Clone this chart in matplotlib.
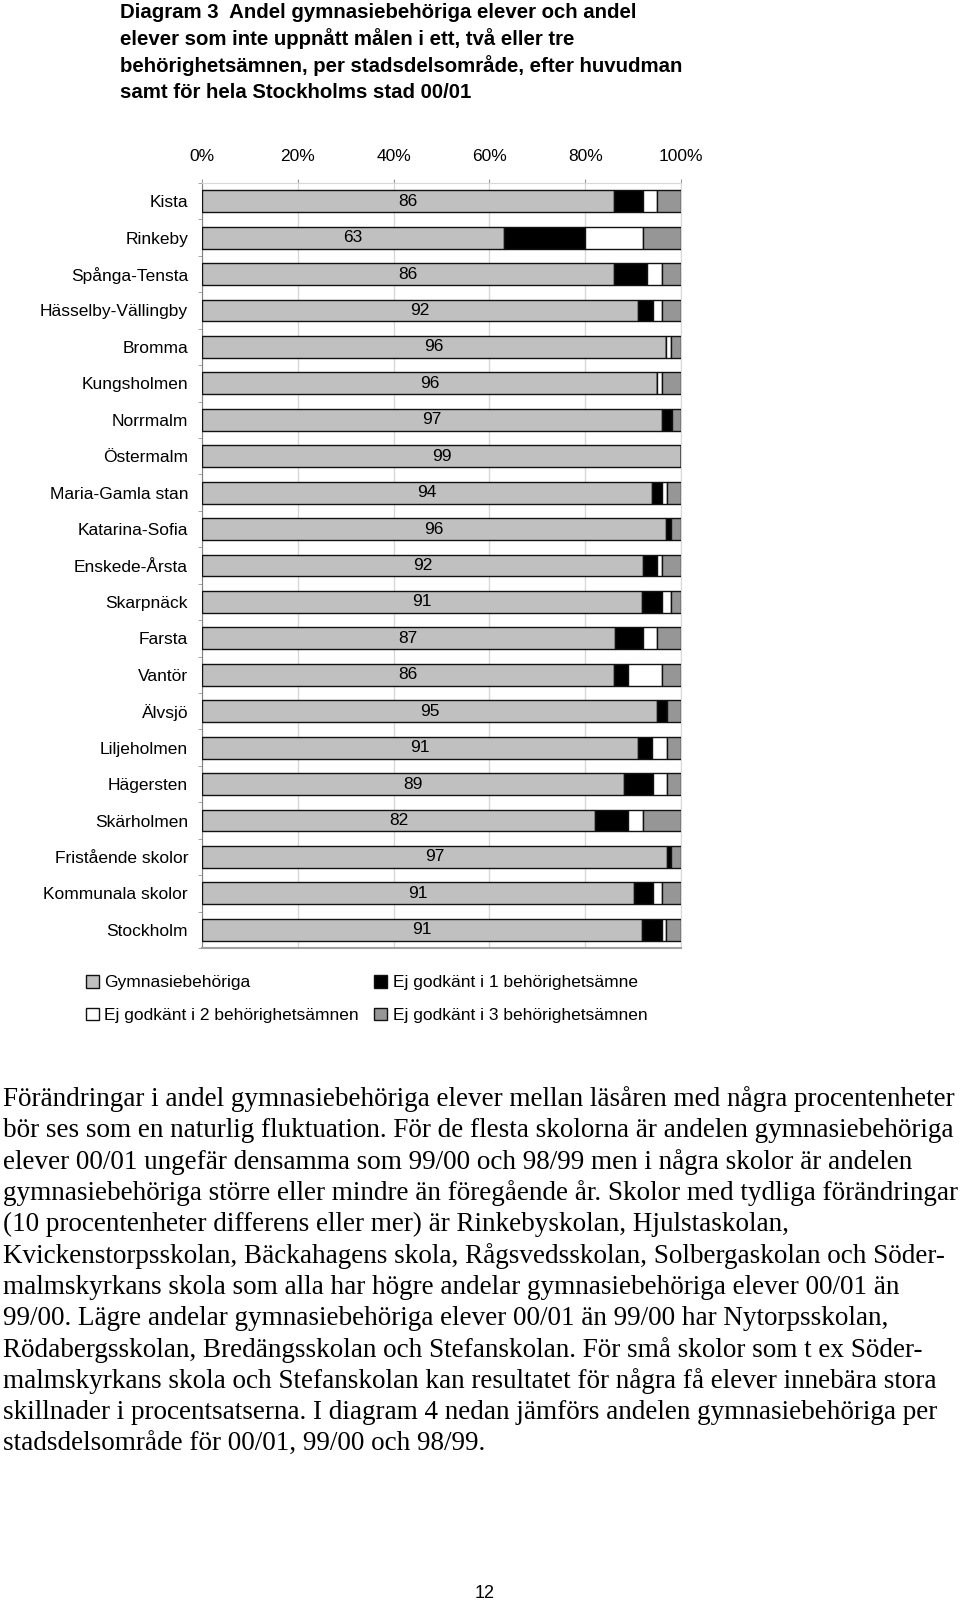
import numpy as np
import matplotlib.pyplot as plt
from matplotlib.patches import Patch

# data (per cent, rows in display order)
categories = ['Kista', 'Rinkeby', 'Spånga-Tensta', 'Hässelby-Vällingby', 'Bromma',
              'Kungsholmen', 'Norrmalm', 'Östermalm', 'Maria-Gamla stan', 'Katarina-Sofia',
              'Enskede-Årsta', 'Skarpnäck', 'Farsta', 'Vantör', 'Älvsjö', 'Liljeholmen',
              'Hägersten', 'Skärholmen', 'Fristående skolor', 'Kommunala skolor', 'Stockholm']
gymn = [86, 63, 86, 92, 96, 96, 97, 99, 94, 96, 92, 91, 87, 86, 95, 91, 89, 82, 97, 91, 91]
ej1 = [6, 17, 7, 3, 0, 0, 2, 0, 2, 1, 3, 4, 6, 3, 2, 3, 6, 7, 1, 4, 4]
ej2 = [3, 12, 3, 2, 1, 1, 0, 0, 1, 0, 1, 2, 3, 7, 0, 3, 3, 3, 0, 2, 1]
ej3 = [5, 8, 4, 4, 2, 4, 2, 0, 3, 2, 4, 2, 5, 4, 3, 3, 3, 8, 2, 4, 3]
series_names = ['Gymnasiebehöriga', 'Ej godkänt i 1 behörighetsämne',
                'Ej godkänt i 2 behörighetsämnen', 'Ej godkänt i 3 behörighetsämnen']
xticks = [0, 20, 40, 60, 80, 100]

title_lines = ['Diagram 3  Andel gymnasiebehöriga elever och andel',
               'elever som inte uppnått målen i ett, två eller tre',
               'behörighetsämnen, per stadsdelsområde, efter huvudman',
               'samt för hela Stockholms stad 00/01']

body_lines = [
    'Förändringar i andel gymnasiebehöriga elever mellan läsåren med några procentenheter',
    'bör ses som en naturlig fluktuation. För de flesta skolorna är andelen gymnasiebehöriga',
    'elever 00/01 ungefär densamma som 99/00 och 98/99 men i några skolor är andelen',
    'gymnasiebehöriga större eller mindre än föregående år. Skolor med tydliga förändringar',
    '(10 procentenheter differens eller mer) är Rinkebyskolan, Hjulstaskolan,',
    'Kvickenstorpsskolan, Bäckahagens skola, Rågsvedsskolan, Solbergaskolan och Söder-',
    'malmskyrkans skola som alla har högre andelar gymnasiebehöriga elever 00/01 än',
    '99/00. Lägre andelar gymnasiebehöriga elever 00/01 än 99/00 har Nytorpsskolan,',
    'Rödabergsskolan, Bredängsskolan och Stefanskolan. För små skolor som t ex Söder-',
    'malmskyrkans skola och Stefanskolan kan resultatet för några få elever innebära stora',
    'skillnader i procentsatserna. I diagram 4 nedan jämförs andelen gymnasiebehöriga per',
    'stadsdelsområde för 00/01, 99/00 och 98/99.',
]

colors = ['#c0c0c0', '#000000', '#ffffff', '#969696']
sans = ['Liberation Sans', 'DejaVu Sans']

W, H = 960, 1601
fig = plt.figure(figsize=(W / 100, H / 100), dpi=100)

def fy(y):
    return 1 - y / H

ax = fig.add_axes([202 / W, fy(948), (681 - 202) / W, (948 - 183) / H])

vals = np.array([gymn, ej1, ej2, ej3], dtype=float)
shares = vals / vals.sum(axis=0) * 100
y = np.arange(len(categories))
left = np.zeros(len(categories))
for s, c, name in zip(shares, colors, series_names):
    ax.barh(y, s, left=left, height=0.6, color=c, edgecolor='#111111',
            linewidth=1.0, label=name, zorder=3)
    left += s

for yi, s, v in zip(y, shares[0], gymn):
    ax.text(s / 2, yi, str(v), ha='center', va='center', fontsize=12.5,
            family=sans, zorder=4)

ax.set_xlim(0, 100)
ax.set_ylim(len(categories) - 0.5, -0.5)
ax.xaxis.tick_top()
ax.set_xticks(xticks)
ax.set_xticklabels([f'{t}%' for t in xticks], fontsize=12.5, family=sans)
ax.tick_params(axis='x', length=3, color='#999999', pad=11)
ax.set_yticks(y)
ax.set_yticklabels(categories, fontsize=12.5, family=sans)
ax.tick_params(axis='y', length=0, pad=10)
ax.set_yticks(np.arange(-0.5, len(categories)), minor=True)
ax.tick_params(axis='y', which='minor', length=3, color='#999999')
ax.grid(axis='x', color='#d8d8d8', linewidth=1.0, zorder=0)
for side in ['top', 'right']:
    ax.spines[side].set_color('#d8d8d8')
ax.spines['bottom'].set_color('#a0a0a0')
ax.spines['bottom'].set_linewidth(1.5)
ax.spines['left'].set_color('#808080')

handles = [Patch(facecolor=c, edgecolor='#111111', linewidth=1.0) for c in colors]
order = [0, 2, 1, 3]
fig.legend([handles[i] for i in order], [series_names[i] for i in order],
           ncol=2, loc='upper left', bbox_to_anchor=(79 / W, fy(968)),
           frameon=False, prop={'family': sans, 'size': 12.5},
           handlelength=0.75, handleheight=0.75, handletextpad=0.3,
           columnspacing=0.9, labelspacing=1.0, borderaxespad=0)

for i, line in enumerate(title_lines):
    fig.text(120 / W, fy(12 + i * 26.8), line, ha='left', va='center',
             fontsize=14.7, fontweight='bold', family=sans)

for i, line in enumerate(body_lines):
    fig.text(3 / W, fy(1099 + i * 31.37), line, ha='left', va='center',
             fontsize=19.5, family=['Liberation Serif', 'DejaVu Serif'])

fig.text(485 / W, fy(1593), '12', ha='center', va='center', fontsize=13, family=sans)

fig.savefig('out.png', dpi=100)
